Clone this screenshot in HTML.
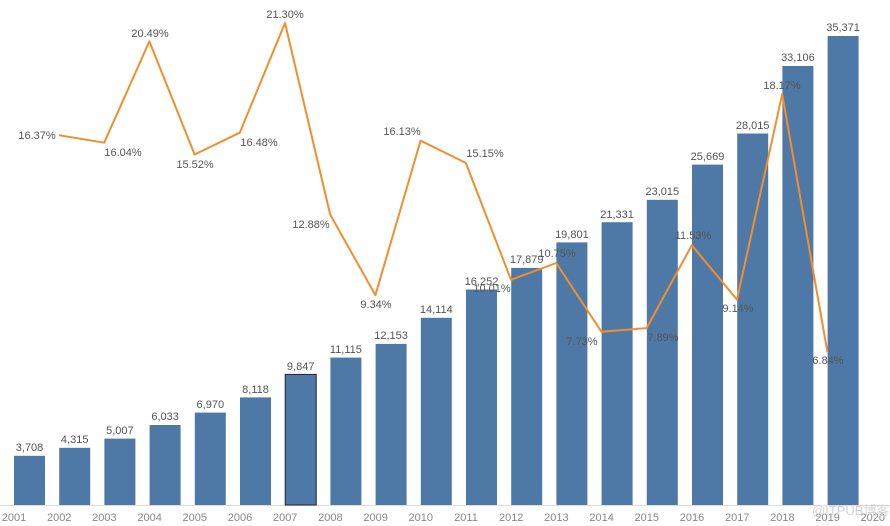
<!DOCTYPE html>
<html><head><meta charset="utf-8"><style>
html,body{margin:0;padding:0;background:#fff;}
svg{display:block;font-family:"Liberation Sans","Noto Sans CJK SC",sans-serif;}
.v{font-size:11px;fill:#555;text-anchor:middle;}
.p{font-size:11px;fill:#555;text-anchor:middle;}
.x{font-size:11px;fill:#888;text-anchor:middle;}
</style></head><body>
<svg width="890" height="526" viewBox="0 0 890 526">
<line x1="0" y1="505.5" x2="890" y2="505.5" stroke="#ddd" stroke-width="1"/>
<g fill="#4e79a7">
<rect x="14" y="455.8" width="31" height="49.2"/>
<rect x="59.2" y="447.8" width="31" height="57.2"/>
<rect x="104.4" y="438.6" width="31" height="66.4"/>
<rect x="149.6" y="425" width="31" height="80"/>
<rect x="194.8" y="412.6" width="31" height="92.4"/>
<rect x="240" y="397.4" width="31" height="107.6"/>
<rect x="285.2" y="374.4" width="31" height="130.6" stroke="#223" stroke-width="1"/>
<rect x="330.4" y="357.6" width="31" height="147.4"/>
<rect x="375.6" y="343.9" width="31" height="161.1"/>
<rect x="420.8" y="317.8" width="31" height="187.2"/>
<rect x="466" y="289.5" width="31" height="215.5"/>
<rect x="511.2" y="267.9" width="31" height="237.1"/>
<rect x="556.4" y="242.4" width="31" height="262.6"/>
<rect x="601.6" y="222.2" width="31" height="282.8"/>
<rect x="646.8" y="199.8" width="31" height="305.2"/>
<rect x="692" y="164.6" width="31" height="340.4"/>
<rect x="737.2" y="133.5" width="31" height="371.5"/>
<rect x="782.4" y="66" width="31" height="439"/>
<rect x="827.6" y="36" width="31" height="469"/>
</g>
<g class="v">
<text x="29.5" y="451">3,708</text>
<text x="74.7" y="443">4,315</text>
<text x="119.9" y="434">5,007</text>
<text x="165.1" y="420">6,033</text>
<text x="210.3" y="408">6,970</text>
<text x="255.5" y="393">8,118</text>
<text x="300.7" y="370">9,847</text>
<text x="345.9" y="353">11,115</text>
<text x="391.1" y="339">12,153</text>
<text x="436.3" y="313">14,114</text>
<text x="481.5" y="285">16,252</text>
<text x="526.7" y="263">17,879</text>
<text x="571.9" y="238">19,801</text>
<text x="617.1" y="218">21,331</text>
<text x="662.3" y="195">23,015</text>
<text x="707.5" y="160">25,669</text>
<text x="752.7" y="129">28,015</text>
<text x="797.9" y="61">33,106</text>
<text x="843.1" y="31">35,371</text>
</g>
<polyline fill="none" stroke="#f28e2b" stroke-width="2" stroke-linejoin="round" points="59,135.2 104.2,142.7 149.4,41.4 194.6,154.5 239.8,132.7 285,23 330.2,214.6 375.4,295.1 420.6,140.6 465.8,162.9 511,279.8 556.2,263 601.4,331.7 646.6,328.1 691.8,245.3 737,299.6 782.2,94.2 827.4,352"/>
<g class="p">
<text x="37" y="139">16.37%</text>
<text x="123" y="156">16.04%</text>
<text x="150" y="37">20.49%</text>
<text x="195" y="168">15.52%</text>
<text x="259" y="146">16.48%</text>
<text x="285" y="18">21.30%</text>
<text x="311" y="228">12.88%</text>
<text x="376" y="308">9.34%</text>
<text x="402" y="135">16.13%</text>
<text x="485" y="157">15.15%</text>
<text x="492" y="292">10.01%</text>
<text x="557" y="257">10.75%</text>
<text x="582" y="345">7.73%</text>
<text x="663" y="341">7.89%</text>
<text x="693" y="239">11.53%</text>
<text x="738" y="312">9.14%</text>
<text x="782" y="89">18.17%</text>
<text x="828" y="364">6.84%</text>
</g>
<g class="x">
<text x="14" y="521">2001</text><text x="59.2" y="521">2002</text><text x="104.4" y="521">2003</text>
<text x="149.6" y="521">2004</text><text x="194.8" y="521">2005</text><text x="240" y="521">2006</text>
<text x="285.2" y="521">2007</text><text x="330.4" y="521">2008</text><text x="375.6" y="521">2009</text>
<text x="420.8" y="521">2010</text><text x="466" y="521">2011</text><text x="511.2" y="521">2012</text>
<text x="556.4" y="521">2013</text><text x="601.6" y="521">2014</text><text x="646.8" y="521">2015</text>
<text x="692" y="521">2016</text><text x="737.2" y="521">2017</text><text x="782.4" y="521">2018</text>
<text x="827.6" y="521">2019</text><text x="872.8" y="521">2020</text>
</g>
<text x="812" y="515" font-size="13" fill="#ccc" fill-opacity="0.85">@ITPUB博客</text>
</svg>
</body></html>
